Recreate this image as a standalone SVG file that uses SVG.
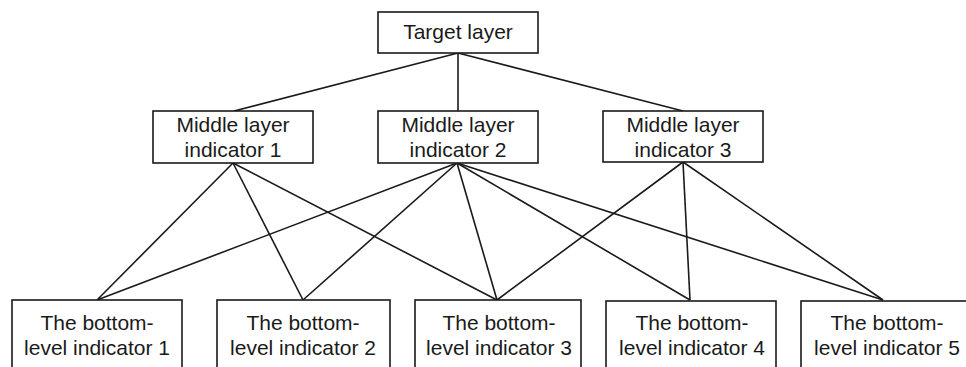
<svg xmlns="http://www.w3.org/2000/svg" width="966" height="367" viewBox="0 0 966 367">
<style>
.box{fill:#fff;stroke:#1a1a1a;stroke-width:1.6}
.t{font-family:"Liberation Sans",Arial,sans-serif;font-size:21px;fill:#1a1a1a;text-anchor:middle}
.e{stroke:#1a1a1a;stroke-width:1.6;fill:none}
</style>
<rect width="966" height="367" fill="#fff"/>
<g id="connectors">
<line class="e" x1="458" y1="53" x2="234" y2="111"/>
<line class="e" x1="458" y1="53" x2="458" y2="111"/>
<line class="e" x1="458" y1="53" x2="683" y2="111"/>
<line class="e" x1="233" y1="163" x2="97" y2="300"/>
<line class="e" x1="233" y1="163" x2="303" y2="300"/>
<line class="e" x1="233" y1="163" x2="497" y2="300"/>
<line class="e" x1="457" y1="163" x2="97" y2="300"/>
<line class="e" x1="457" y1="163" x2="303" y2="300"/>
<line class="e" x1="457" y1="163" x2="497" y2="300"/>
<line class="e" x1="457" y1="163" x2="690" y2="300"/>
<line class="e" x1="457" y1="163" x2="883" y2="300"/>
<line class="e" x1="683" y1="162" x2="497" y2="300"/>
<line class="e" x1="683" y1="162" x2="690" y2="300"/>
<line class="e" x1="683" y1="162" x2="883" y2="300"/>
</g>
<g id="target">
<rect class="box" x="378" y="12" width="160" height="41"/>
<text class="t" x="458" y="39">Target layer</text>
</g>
<g id="middle1">
<rect class="box" x="153" y="111" width="160" height="52"/>
<text class="t" x="233" y="132">Middle layer</text>
<text class="t" x="233" y="157">indicator 1</text>
</g>
<g id="middle2">
<rect class="box" x="378" y="111" width="160" height="52"/>
<text class="t" x="458" y="132">Middle layer</text>
<text class="t" x="458" y="157">indicator 2</text>
</g>
<g id="middle3">
<rect class="box" x="603" y="111" width="160" height="51"/>
<text class="t" x="683" y="132">Middle layer</text>
<text class="t" x="683" y="157">indicator 3</text>
</g>
<g id="bottom1">
<rect class="box" x="12" y="300" width="170" height="80"/>
<text class="t" x="97" y="330">The bottom-</text>
<text class="t" x="97" y="355">level indicator 1</text>
</g>
<g id="bottom2">
<rect class="box" x="217" y="300" width="173" height="80"/>
<text class="t" x="303" y="330">The bottom-</text>
<text class="t" x="303" y="355">level indicator 2</text>
</g>
<g id="bottom3">
<rect class="box" x="415" y="300" width="166" height="80"/>
<text class="t" x="499" y="330">The bottom-</text>
<text class="t" x="499" y="355">level indicator 3</text>
</g>
<g id="bottom4">
<rect class="box" x="606" y="301" width="170" height="80"/>
<text class="t" x="692" y="330">The bottom-</text>
<text class="t" x="692" y="355">level indicator 4</text>
</g>
<g id="bottom5">
<rect class="box" x="801" y="301" width="172" height="80"/>
<text class="t" x="887" y="330">The bottom-</text>
<text class="t" x="887" y="355">level indicator 5</text>
</g>
</svg>
